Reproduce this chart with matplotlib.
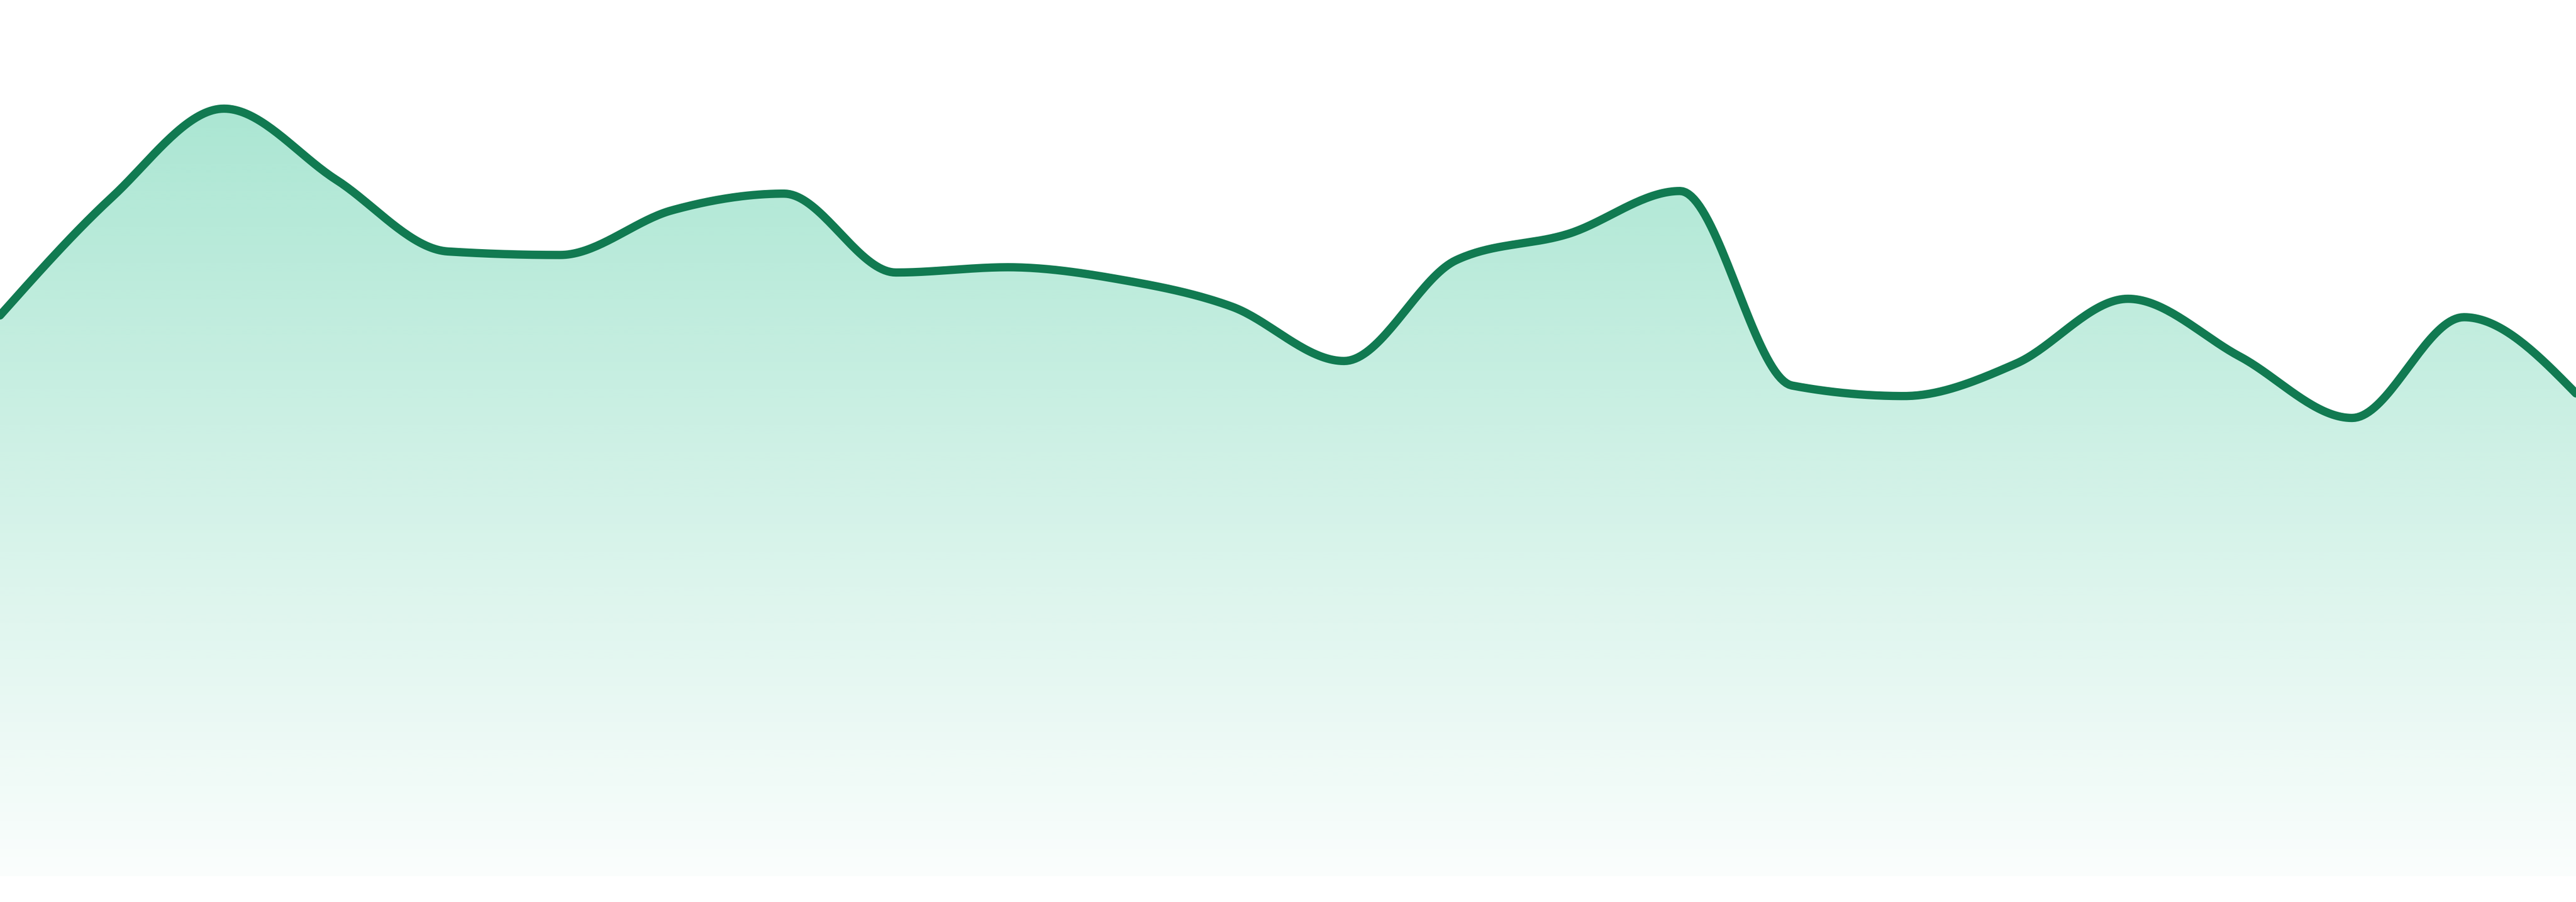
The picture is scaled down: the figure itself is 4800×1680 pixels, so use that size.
import matplotlib
matplotlib.use("Agg")
import matplotlib.pyplot as plt
import numpy as np
from matplotlib.patches import Polygon

# values (24 evenly spaced samples, 0-100 scale)
points = np.arange(24)
values = [64.0, 77.5, 87.6, 79.5, 71.3, 70.9, 76.0, 77.9, 68.9, 69.5, 68.1, 65.0,
          58.8, 70.3, 73.3, 78.2, 56.0, 54.8, 58.5, 65.9, 59.3, 52.3, 63.8, 55.1]

line_color = "#117a51"
fill_rgb = np.array([16, 185, 129]) / 255.0


def monotone_curve(x, y, steps=40):
    # same idea as d3.curveMonotoneX: cubic hermite with monotone tangents
    x = np.asarray(x, float)
    y = np.asarray(y, float)
    h = np.diff(x)
    s = np.diff(y) / h
    t = np.zeros_like(y)
    for i in range(1, len(y) - 1):
        p = (s[i - 1] * h[i] + s[i] * h[i - 1]) / (h[i - 1] + h[i])
        t[i] = (np.sign(s[i - 1]) + np.sign(s[i])) * min(abs(s[i - 1]), abs(s[i]), 0.5 * abs(p))
    t[0] = (3 * s[0] - t[1]) / 2
    t[-1] = (3 * s[-1] - t[-2]) / 2
    xs, ys = [], []
    for i in range(len(x) - 1):
        u = np.linspace(0, 1, steps, endpoint=(i == len(x) - 2))
        h00 = 2 * u**3 - 3 * u**2 + 1
        h10 = u**3 - 2 * u**2 + u
        h01 = -2 * u**3 + 3 * u**2
        h11 = u**3 - u**2
        xs.append(x[i] + u * h[i])
        ys.append(h00 * y[i] + h10 * h[i] * t[i] + h01 * y[i + 1] + h11 * h[i] * t[i + 1])
    return np.concatenate(xs), np.concatenate(ys)


cx, cy = monotone_curve(points, values)

fig = plt.figure(figsize=(16, 5.6), dpi=300)
ax = fig.add_axes([0, 48 / 1680, 1, 1632 / 1680])
ax.set_xlim(points[0], points[-1])
ax.set_ylim(0, 100)
ax.axis("off")

# vertical gradient fill under the curve
grad = np.zeros((256, 2, 4))
alpha = np.linspace(0.40, 0.02, 256)
grad[:, :, :3] = fill_rgb
grad[:, :, 3] = alpha[:, None]
im = ax.imshow(grad, extent=[points[0], points[-1], 0, 100], origin="upper",
               aspect="auto", interpolation="bilinear", zorder=1)
verts = np.column_stack([np.r_[cx, cx[-1], cx[0]], np.r_[cy, 0, 0]])
poly = Polygon(verts, closed=True, facecolor="none", edgecolor="none")
ax.add_patch(poly)
im.set_clip_path(poly)

ax.plot(cx, cy, color=line_color, linewidth=3.7, solid_capstyle="round",
        solid_joinstyle="round", zorder=3)

fig.savefig("out.png", dpi=300, facecolor="white")
